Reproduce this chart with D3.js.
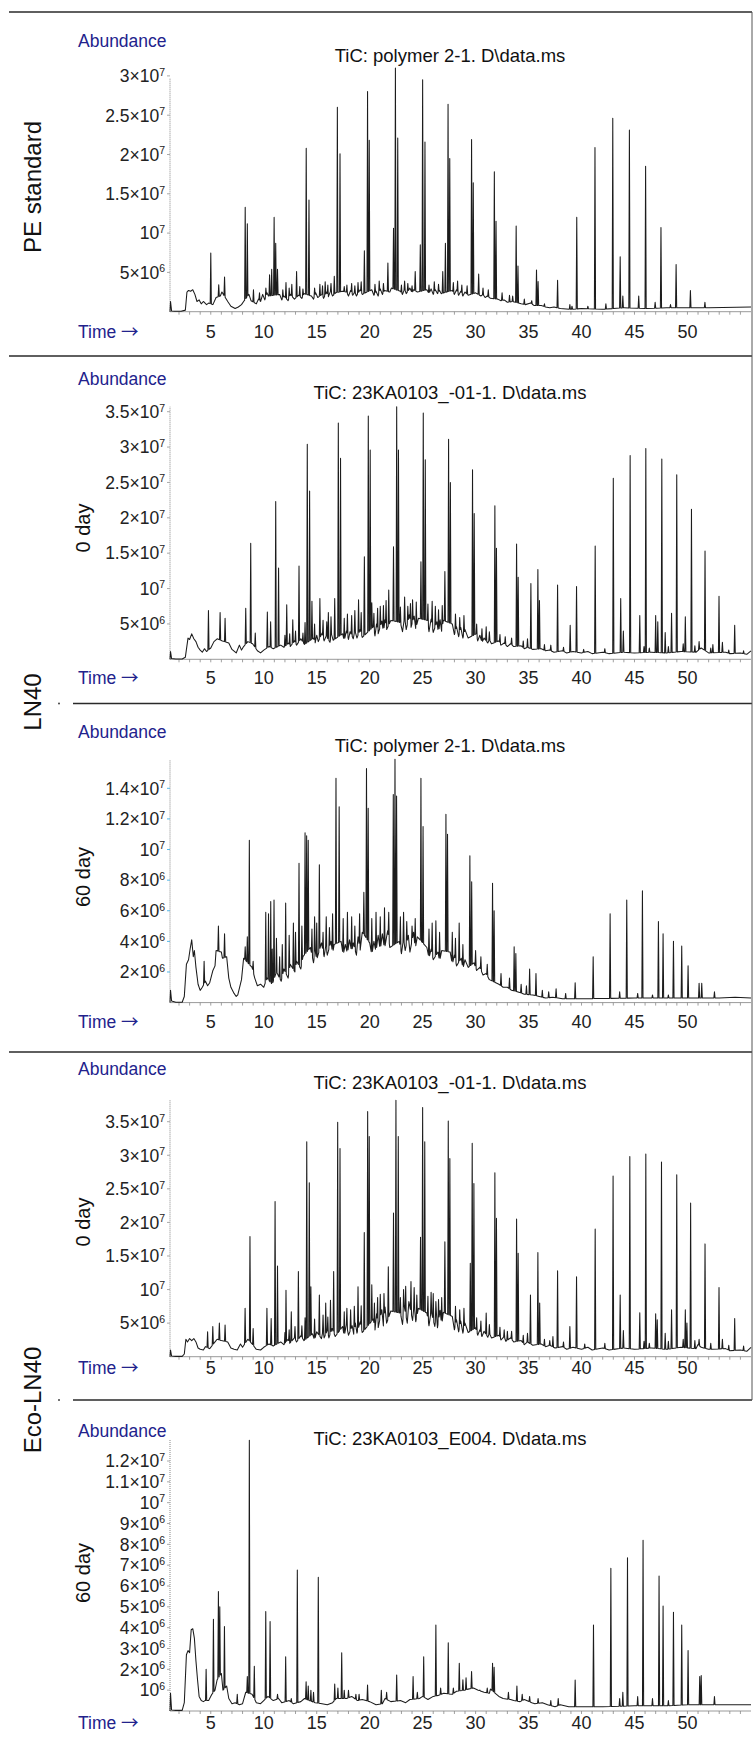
<!DOCTYPE html>
<html><head><meta charset="utf-8">
<script src="https://cdn.jsdelivr.net/npm/d3@7"></script>
<style>
body{margin:0;background:#fff}
svg{display:block}
text{font-family:"Liberation Sans",Arial,Helvetica,sans-serif}
</style>
</head><body>
<svg id="chart" width="756" height="1740"></svg>
<script>
// ---------------- DATA (abundance in millions, time in minutes) ----------------
const timeTicks = [5,10,15,20,25,30,35,40,45,50];
const titles = ["TiC: polymer 2-1. D\\data.ms","TiC: 23KA0103_-01-1. D\\data.ms","TiC: polymer 2-1. D\\data.ms","TiC: 23KA0103_-01-1. D\\data.ms","TiC: 23KA0103_E004. D\\data.ms"];
const dayLabels = ["","0 day","60 day","0 day","60 day"];
const groupLabels = ["PE standard","LN40","Eco-LN40"];

const p1YTicks = [5,10,15,20,25,30];
const p2YTicks = [5,10,15,20,25,30,35];
const p3YTicks = [2,4,6,8,10,12,14];
const p4YTicks = [5,10,15,20,25,30,35];
const p5YTicks = [1,2,3,4,5,6,7,8,9,10,11,12];

const p1Base = [[1.15,0],[1.2,1.3],[1.3,0.1],[1.6,0.05],[2.2,0.05],[2.6,0.2],[2.75,2.5],[2.9,2.7],[3.1,2.6],[3.3,2.8],[3.5,2.2],[3.7,1.3],[3.9,1.5],[4.1,1.0],[4.3,1.3],[4.6,0.9],[4.8,1.1],[5.2,0.9],[5.5,1.8],[5.9,2.0],[6.05,2.5],[6.6,1.3],[6.9,0.7],[7.3,0.4],[7.6,0.6],[7.9,0.9],[8.1,1.3],[8.6,2.2],[8.8,1.4],[9.3,1.0],[9.5,1.6],[9.7,1.3],[9.9,2.2],[10.1,1.5],[10.3,2.4],[10.45,2.0],[11.5,2.2],[11.7,1.5],[11.9,2.0],[12.3,1.4],[12.5,2.2],[12.9,1.6],[13.3,2.1],[13.6,1.7],[13.8,2.3],[14.5,2.0],[14.7,1.6],[14.9,2.4],[15.1,1.8],[15.5,2.2],[15.65,1.7],[15.95,2.5],[16.1,1.9],[16.3,2.6],[16.5,2.0],[16.8,2.4],[17.4,2.6],[17.8,2.5],[18.0,2.0],[18.2,2.7],[18.4,2.1],[18.6,2.5],[18.75,2.0],[19.1,2.8],[19.3,2.2],[20.2,2.8],[20.4,2.1],[20.6,2.6],[20.8,2.0],[21.0,2.9],[21.2,2.2],[21.4,2.7],[21.9,2.5],[22.05,3.0],[22.9,2.6],[23.1,2.2],[23.3,2.9],[23.45,2.3],[23.8,3.0],[24.0,2.4],[24.15,2.8],[24.5,2.5],[25.4,2.8],[25.6,2.3],[25.8,2.9],[26.0,2.2],[26.2,2.8],[26.4,2.3],[26.6,2.7],[26.75,2.3],[27.8,2.7],[28.0,2.2],[28.2,2.8],[28.4,2.1],[28.6,2.6],[28.8,2.0],[29.0,2.5],[29.3,2.1],[30.0,2.4],[30.5,2.0],[30.7,2.2],[30.9,1.8],[31.1,2.0],[31.4,1.7],[32.1,1.6],[32.4,1.4],[32.7,1.5],[33.0,1.2],[33.5,1.3],[34.3,1.0],[34.7,0.9],[35.2,1.1],[35.5,0.8],[36.2,0.8],[36.6,0.6],[37.0,0.5],[37.4,0.6],[38.0,0.4],[39.0,0.3],[40.0,0.4],[42.0,0.3],[44.0,0.5],[46.0,0.4],[48.0,0.5],[50.0,0.5],[52.0,0.5],[56.0,0.6]];
const p1Peaks = [[5.0,7.46],[5.75,3.43],[6.3,4.4],[8.25,13.3],[8.45,11.2],[9.03,2.8],[10.55,4.7],[10.75,5.4],[10.98,12.0],[11.13,8.7],[11.3,5.4],[12.1,3.7],[12.65,3.5],[13.1,5.1],[14.01,20.8],[14.27,14.2],[15.3,3.5],[15.8,3.8],[16.66,4.5],[16.95,26.0],[17.2,20.1],[17.6,3.2],[18.9,3.7],[19.5,7.75],[19.8,28.0],[19.96,21.8],[21.72,6.2],[22.25,10.6],[22.43,31.0],[22.65,22.1],[23.6,3.6],[24.3,5.1],[24.78,8.5],[25.0,29.5],[25.22,21.6],[26.9,5.1],[27.15,8.7],[27.4,26.4],[27.56,19.5],[29.62,21.9],[29.78,16.4],[30.29,4.8],[31.77,17.8],[31.93,11.5],[33.2,2.1],[33.83,10.9],[34.0,5.8],[35.75,5.3],[35.9,3.85],[37.74,4.0],[38.9,0.9],[39.55,12.0],[41.27,20.9],[42.3,1.0],[42.95,24.6],[43.65,7.0],[43.9,2.0],[44.52,23.1],[45.4,2.0],[46.05,18.5],[46.95,1.2],[47.5,10.7],[48.4,0.9],[48.93,6.0],[50.28,2.7],[51.65,1.2]];
const p1Minor = [[9.6,2.4],[10.2,3.0],[11.8,2.8],[12.4,3.0],[13.4,3.2],[13.7,2.9],[14.8,3.0],[15.55,3.3],[16.05,3.4],[16.35,3.6],[17.85,3.4],[18.3,3.6],[18.6,3.3],[19.2,3.8],[20.5,3.5],[20.9,3.9],[21.3,3.6],[23.0,3.4],[23.3,3.9],[24.0,3.3],[25.6,3.4],[26.1,3.8],[26.5,3.5],[27.9,3.7],[28.3,3.9],[28.7,3.4],[29.2,3.3],[30.7,3.0],[31.2,2.8],[32.5,2.4],[33.5,2.0],[34.6,1.6],[35.3,1.4],[36.5,1.0],[39.1,0.7],[40.6,0.7]];

const p2Base = [[1.15,0],[1.2,1.1],[1.3,0.1],[1.7,0.05],[2.3,0.05],[2.6,0.3],[2.85,3.0],[3.0,2.8],[3.2,3.6],[3.4,2.9],[3.6,2.5],[3.8,1.7],[4.0,1.3],[4.2,1.0],[4.4,1.5],[4.6,1.1],[5.0,1.6],[5.3,2.5],[5.6,2.9],[6.1,2.6],[6.7,2.3],[7.0,1.4],[7.4,0.9],[7.7,2.0],[7.9,1.3],[8.1,1.8],[8.5,2.5],[8.95,2.2],[9.4,1.2],[9.7,0.9],[10.0,1.3],[10.5,1.8],[10.9,1.5],[11.6,2.0],[11.9,1.7],[12.35,2.3],[12.5,1.8],[12.9,2.6],[13.1,2.0],[13.5,2.9],[13.85,2.1],[14.7,3.0],[14.85,2.3],[15.0,3.4],[15.15,2.5],[15.5,3.7],[15.7,2.6],[15.9,3.3],[16.25,2.4],[16.4,3.5],[16.55,2.7],[17.45,3.6],[17.6,2.6],[17.8,4.0],[18.0,2.8],[18.15,3.9],[18.45,2.9],[18.6,4.1],[18.8,3.0],[19.1,4.2],[19.3,3.1],[20.35,4.6],[20.5,3.3],[20.65,5.0],[20.8,3.6],[21.15,5.4],[21.3,3.8],[21.45,5.6],[21.6,4.2],[22.0,5.5],[22.9,5.2],[23.1,3.9],[23.3,6.0],[23.45,4.2],[23.75,6.3],[23.9,4.5],[24.2,6.1],[24.35,4.3],[24.6,5.8],[25.45,5.5],[25.6,3.9],[25.8,5.7],[26.0,3.8],[26.35,5.3],[26.5,3.6],[26.65,5.6],[26.8,3.9],[26.95,5.5],[27.8,5.0],[28.0,3.5],[28.2,4.6],[28.4,3.2],[28.6,4.5],[28.8,3.0],[29.0,4.2],[29.3,3.0],[30.05,3.6],[30.2,2.6],[30.4,3.4],[30.6,2.4],[30.8,3.0],[31.15,2.3],[31.3,2.8],[31.5,2.2],[32.2,2.6],[32.4,2.0],[32.7,2.3],[33.0,1.8],[33.3,2.2],[33.6,1.8],[34.3,1.9],[34.6,1.5],[34.9,1.7],[35.4,1.4],[36.2,1.5],[36.6,1.2],[37.0,1.3],[37.4,1.0],[38.2,1.2],[38.6,0.9],[39.2,1.1],[40.0,0.9],[40.6,1.1],[41.0,0.8],[42.0,1.0],[42.6,0.8],[44.0,1.0],[45.0,0.9],[46.6,1.0],[48.0,0.9],[49.4,1.1],[50.8,1.0],[51.3,1.6],[52.0,0.9],[53.6,1.0],[54.0,0.8],[55.0,0.9],[55.6,0.7],[56.0,1.2]];
const p2Peaks = [[4.78,6.9],[5.88,6.6],[6.35,5.8],[8.3,7.2],[8.77,16.4],[9.2,3.7],[10.34,6.7],[10.65,5.3],[11.13,22.3],[11.4,12.9],[12.17,7.7],[12.74,5.6],[13.33,13.2],[13.7,3.7],[14.11,30.4],[14.33,23.8],[14.55,8.2],[15.3,8.6],[16.1,6.6],[16.7,8.6],[17.04,33.4],[17.25,28.4],[18.3,6.2],[18.95,8.4],[19.5,14.5],[19.87,34.4],[20.05,29.6],[20.2,8.0],[21.0,7.5],[21.8,9.8],[22.25,15.9],[22.55,35.7],[22.72,29.6],[23.6,7.5],[24.05,8.4],[24.84,13.8],[25.06,34.8],[25.25,28.2],[26.2,7.5],[27.1,12.4],[27.45,31.1],[27.62,25.0],[29.71,26.8],[29.87,20.6],[31.0,4.6],[31.82,21.7],[31.97,15.7],[33.87,16.3],[34.02,11.6],[35.22,10.7],[35.88,12.7],[36.03,8.3],[37.74,10.5],[38.93,4.8],[39.53,10.3],[41.29,16.0],[43.0,25.6],[43.7,8.6],[43.95,4.0],[44.59,28.8],[45.5,6.2],[46.07,29.8],[47.0,6.2],[47.2,5.3],[47.58,28.3],[47.9,3.8],[48.5,6.5],[48.99,26.1],[49.8,6.0],[50.38,21.2],[51.1,2.5],[51.66,15.3],[52.4,2.1],[52.98,8.9],[53.3,2.4],[54.46,4.8]];
const p2Minor = [[12.0,3.4],[12.45,3.6],[13.0,4.0],[13.9,5.2],[14.8,5.0],[15.6,5.5],[15.95,5.3],[16.35,6.0],[17.6,5.8],[17.9,6.4],[18.6,6.9],[19.2,6.6],[20.4,6.5],[20.75,7.2],[21.3,7.6],[21.55,8.3],[22.9,7.4],[23.3,8.8],[23.85,7.9],[24.4,8.1],[25.5,7.8],[25.9,8.2],[26.5,7.0],[26.85,7.6],[28.1,6.4],[28.5,5.9],[28.9,6.2],[30.1,5.0],[30.6,4.3],[31.3,3.9],[32.3,3.5],[32.8,3.2],[33.4,3.0],[34.5,2.6],[34.9,2.9],[36.5,2.1],[37.1,2.0],[38.3,1.7],[40.2,1.4],[42.2,1.5],[45.9,1.8],[46.4,1.6],[48.2,1.8],[49.6,2.2],[50.7,1.9],[52.2,1.6],[53.9,1.3],[55.3,1.2]];

const p3Base = [[1.15,0],[1.2,0.8],[1.3,0.1],[1.7,0.02],[2.3,0.02],[2.5,0.4],[2.7,2.5],[2.9,2.8],[3.05,3.5],[3.2,4.1],[3.35,3.0],[3.45,3.4],[3.6,2.3],[3.8,1.2],[4.0,0.8],[4.2,1.0],[4.5,1.4],[4.7,1.1],[4.9,1.3],[5.2,2.1],[5.4,2.4],[5.5,3.4],[6.0,3.3],[6.1,2.9],[6.5,3.0],[6.7,1.6],[6.9,1.0],[7.2,0.6],[7.4,0.4],[7.55,0.5],[7.9,1.5],[8.1,2.9],[8.9,2.3],[9.15,1.6],[9.4,1.1],[9.7,1.2],[10.0,1.0],[10.3,1.6],[10.8,1.2],[11.2,2.0],[11.65,1.4],[11.9,2.2],[12.3,1.6],[12.5,2.5],[12.95,2.0],[13.1,2.7],[13.5,2.2],[13.7,3.0],[14.4,3.6],[14.7,2.6],[14.85,3.4],[15.0,2.8],[15.45,3.9],[15.7,3.0],[15.85,3.7],[16.0,3.1],[16.35,4.0],[16.5,3.2],[16.65,3.8],[17.3,4.0],[17.5,3.1],[17.7,3.8],[17.9,3.2],[18.1,4.1],[18.3,3.3],[18.45,3.9],[18.75,3.1],[18.9,4.3],[19.1,3.4],[19.3,4.6],[20.0,3.9],[20.2,3.1],[20.4,4.0],[20.6,3.3],[20.8,4.4],[21.0,3.4],[21.2,4.5],[21.4,3.5],[21.7,4.7],[21.9,3.6],[22.8,4.0],[23.0,3.2],[23.2,4.2],[23.35,3.4],[23.65,4.4],[23.8,3.3],[24.15,4.6],[24.3,3.5],[24.5,4.3],[25.4,3.6],[25.6,2.9],[25.8,3.5],[26.0,2.8],[26.45,3.3],[26.6,2.7],[26.8,3.4],[27.6,3.3],[27.8,2.5],[28.0,3.1],[28.2,2.4],[28.65,2.9],[28.8,2.2],[29.0,2.8],[29.3,2.3],[29.85,2.6],[30.1,2.1],[30.4,2.3],[30.7,1.8],[31.0,1.9],[31.3,1.5],[32.2,1.2],[32.6,1.0],[33.0,1.0],[33.4,0.8],[34.0,0.7],[34.6,0.55],[35.4,0.5],[36.0,0.4],[36.6,0.3],[37.3,0.35],[38.2,0.25],[40.0,0.25],[45.0,0.3],[50.0,0.3],[53.0,0.3],[54.5,0.35],[56.0,0.3]];
const p3Peaks = [[4.37,2.7],[5.72,5.0],[6.3,4.5],[8.25,3.65],[8.45,4.3],[8.64,10.6],[9.0,2.7],[10.19,5.9],[10.45,5.8],[10.66,6.6],[10.97,6.7],[11.5,3.0],[12.07,6.5],[12.8,5.2],[13.33,9.1],[13.9,11.1],[14.05,10.9],[14.2,10.6],[14.55,4.8],[15.25,9.0],[15.6,4.6],[16.2,4.9],[16.82,14.66],[17.12,12.8],[18.6,5.0],[19.45,7.2],[19.7,15.3],[19.86,12.7],[22.23,13.6],[22.39,15.9],[22.54,13.5],[23.5,5.3],[24.0,5.0],[24.84,14.66],[25.04,11.5],[26.25,5.35],[27.2,12.3],[27.35,11.0],[28.45,5.2],[29.46,9.6],[29.63,7.9],[31.6,7.8],[31.75,6.0],[33.64,3.65],[33.8,3.2],[35.1,2.2],[35.7,1.9],[36.9,0.7],[37.6,0.9],[38.5,0.6],[39.4,1.3],[41.1,3.0],[42.7,5.8],[43.6,0.7],[44.27,6.7],[45.3,0.6],[45.75,7.3],[46.7,0.5],[47.26,5.3],[47.7,4.5],[48.2,0.5],[48.68,4.0],[49.46,3.7],[50.06,2.4],[51.1,1.26],[51.35,1.26],[52.55,0.7]];
const p3Minor = [[10.8,3.5],[11.2,4.2],[11.75,3.8],[12.4,4.4],[13.0,4.6],[13.6,5.0],[14.8,5.6],[15.0,5.2],[15.9,5.6],[16.5,5.8],[17.5,5.5],[17.9,5.9],[18.3,5.6],[19.05,5.8],[20.2,5.5],[20.6,5.9],[21.0,5.6],[21.4,6.2],[21.8,5.9],[22.9,5.6],[23.2,5.9],[24.3,5.5],[25.6,4.8],[25.9,5.2],[26.6,4.6],[27.8,4.6],[28.1,4.2],[28.8,3.8],[30.0,3.4],[30.5,3.0],[31.1,2.5],[32.4,1.9],[33.2,1.6],[34.3,1.2],[34.8,1.1],[36.3,0.8]];

const p4Base = [[1.15,0],[1.2,1.0],[1.3,0.1],[1.7,0.05],[2.3,0.05],[2.5,0.4],[2.65,2.6],[2.8,2.2],[3.0,2.7],[3.2,2.4],[3.4,2.7],[3.6,2.2],[3.8,1.3],[4.0,1.1],[4.3,1.0],[4.5,1.5],[4.9,1.2],[5.4,2.2],[5.6,2.6],[6.0,2.4],[6.6,2.2],[6.9,1.3],[7.2,1.1],[7.5,1.0],[7.8,1.9],[8.0,1.4],[8.5,2.6],[8.85,2.0],[9.3,1.1],[9.7,1.0],[10.0,1.4],[10.5,1.9],[10.9,1.6],[11.6,2.2],[11.9,1.8],[12.3,2.6],[12.45,2.0],[12.9,2.8],[13.1,2.2],[13.5,3.1],[13.8,2.4],[14.6,3.4],[14.8,2.5],[15.0,3.7],[15.45,2.7],[15.6,4.0],[15.7,2.8],[16.0,3.9],[16.15,2.8],[16.45,4.2],[16.75,3.0],[17.45,4.5],[17.6,3.0],[17.8,4.8],[18.0,3.2],[18.35,4.6],[18.5,3.3],[18.65,5.0],[18.8,3.5],[19.1,5.2],[19.3,3.6],[20.35,5.6],[20.5,3.9],[20.65,6.4],[20.8,4.3],[21.15,7.0],[21.3,4.5],[21.45,7.4],[21.6,5.0],[22.0,6.8],[22.9,6.5],[23.1,4.8],[23.25,7.6],[23.55,5.0],[23.7,8.2],[24.05,5.4],[24.2,7.9],[24.35,5.2],[24.6,7.2],[25.4,6.5],[25.6,4.6],[25.8,6.8],[26.15,4.5],[26.3,6.5],[26.4,4.3],[26.65,6.9],[26.8,4.6],[26.95,6.6],[27.8,6.0],[28.0,4.0],[28.2,5.5],[28.4,3.7],[28.6,5.3],[28.8,3.5],[29.0,5.0],[29.3,3.6],[30.0,4.3],[30.2,3.2],[30.4,4.0],[30.6,3.0],[30.8,3.8],[31.15,2.9],[31.3,3.5],[31.5,2.8],[32.2,3.2],[32.4,2.5],[32.7,3.0],[32.85,2.3],[33.3,2.8],[33.6,2.2],[34.3,2.4],[34.6,1.8],[34.9,2.2],[35.4,1.7],[36.2,1.9],[36.6,1.5],[37.0,1.7],[37.5,1.3],[38.2,1.5],[38.6,1.1],[39.2,1.4],[40.0,1.1],[40.6,1.4],[41.0,1.0],[42.0,1.3],[42.6,1.0],[44.0,1.3],[45.0,1.1],[46.6,1.3],[48.0,1.1],[49.4,1.4],[50.8,1.2],[51.0,1.8],[51.3,1.4],[52.0,1.1],[53.6,1.2],[54.0,0.9],[55.0,1.0],[55.6,0.8],[56.0,1.4]];
const p4Peaks = [[4.7,3.7],[5.19,4.5],[5.81,5.0],[6.35,4.7],[8.24,7.2],[8.7,17.9],[9.0,4.2],[10.3,7.2],[10.7,5.7],[11.07,23.1],[11.3,13.5],[12.1,9.9],[12.6,6.7],[13.27,12.7],[13.6,4.6],[14.06,32.0],[14.3,25.9],[14.45,10.4],[15.25,9.2],[15.85,8.0],[16.3,8.4],[16.6,12.7],[16.98,34.9],[17.2,31.0],[18.2,7.0],[18.9,10.4],[19.49,18.5],[19.81,36.5],[19.96,32.8],[20.2,10.7],[21.0,9.3],[21.76,13.4],[22.25,21.4],[22.48,38.2],[22.7,32.8],[23.4,10.5],[23.9,11.2],[24.8,17.8],[25.0,37.1],[25.2,32.0],[26.0,9.4],[26.5,8.5],[27.1,17.1],[27.42,35.1],[27.57,29.5],[29.5,13.9],[29.68,31.8],[29.84,25.8],[31.0,6.5],[31.82,27.4],[31.97,20.6],[33.0,3.8],[33.87,20.5],[34.02,15.4],[35.18,9.2],[35.88,15.5],[36.05,8.0],[37.3,3.0],[37.74,12.8],[38.9,4.5],[39.53,11.9],[41.29,19.0],[42.98,26.9],[43.65,9.2],[43.95,3.9],[44.56,29.8],[45.5,6.55],[46.07,30.2],[47.0,6.4],[47.15,5.5],[47.55,29.0],[47.9,3.5],[48.5,7.0],[48.99,27.1],[49.8,7.0],[49.95,5.0],[50.3,22.9],[51.1,2.6],[51.66,16.8],[52.98,10.3],[53.3,2.6],[54.46,5.7]];
const p4Minor = [[12.0,3.6],[12.4,4.0],[12.95,4.5],[13.9,5.8],[14.8,5.6],[15.6,6.2],[16.05,5.9],[17.6,6.7],[17.85,7.2],[18.55,7.5],[19.2,7.6],[20.45,8.0],[20.75,8.8],[21.35,9.4],[22.9,8.8],[23.2,10.0],[24.2,10.3],[24.45,9.2],[25.5,9.0],[25.8,9.6],[26.25,8.2],[26.8,8.8],[28.1,7.5],[28.5,7.0],[28.9,7.2],[30.1,5.8],[30.5,5.3],[31.3,4.8],[32.3,4.4],[32.7,4.0],[33.4,3.8],[34.5,3.2],[34.9,3.5],[36.5,2.6],[37.0,2.4],[38.3,2.2],[40.3,1.9],[42.2,2.0],[45.9,2.3],[46.4,2.0],[48.2,2.3],[49.6,2.6],[50.7,2.4],[52.2,2.0],[53.9,1.7],[55.3,1.6]];

const p5Base = [[1.15,0],[1.2,0.85],[1.3,0.05],[1.7,0.03],[2.3,0.03],[2.5,0.4],[2.7,2.7],[2.85,2.9],[3.0,2.8],[3.15,3.9],[3.3,3.95],[3.45,3.5],[3.6,2.4],[3.75,1.5],[3.9,0.7],[4.1,0.5],[4.3,0.45],[4.45,0.5],[4.8,0.5],[5.1,0.8],[5.4,1.0],[5.6,1.5],[6.0,1.8],[6.15,1.0],[6.5,1.2],[6.7,0.6],[7.0,0.35],[7.3,0.4],[7.7,0.3],[8.0,0.35],[8.3,0.9],[8.9,0.8],[9.3,0.4],[9.7,0.35],[10.0,0.5],[10.4,0.7],[10.9,0.5],[11.4,0.6],[11.7,0.4],[12.4,0.5],[12.8,0.35],[13.5,0.45],[13.85,0.6],[14.3,0.5],[14.85,0.4],[15.5,0.35],[16.0,0.3],[16.5,0.4],[16.85,0.6],[17.8,0.6],[18.3,0.7],[18.85,0.5],[19.3,0.55],[20.0,0.45],[20.6,0.3],[21.2,0.35],[21.45,0.6],[22.0,0.45],[22.9,0.5],[23.4,0.4],[23.8,0.55],[24.7,0.6],[25.0,0.7],[25.5,0.55],[26.0,0.7],[26.5,0.75],[27.0,0.85],[27.8,0.8],[28.2,0.95],[28.95,1.0],[29.3,1.05],[29.8,1.1],[30.25,1.0],[30.8,0.9],[31.3,0.85],[31.4,1.05],[32.2,0.7],[32.6,0.6],[33.3,0.55],[33.6,0.5],[34.2,0.45],[34.6,0.55],[35.3,0.4],[35.6,0.35],[36.3,0.4],[36.8,0.3],[37.5,0.2],[38.0,0.3],[38.8,0.2],[40.0,0.2],[42.0,0.2],[45.0,0.25],[48.0,0.25],[50.0,0.3],[52.0,0.3],[54.0,0.3],[56.0,0.3]];
const p5Peaks = [[4.56,2.0],[5.25,4.4],[5.72,5.73],[5.85,5.0],[6.29,4.05],[7.5,0.8],[8.45,1.65],[8.64,13.0],[9.11,2.15],[10.19,4.77],[10.6,4.29],[11.3,0.8],[12.07,2.6],[12.6,0.6],[13.17,6.77],[14.0,1.4],[14.2,1.2],[14.45,1.0],[14.7,0.9],[15.15,6.42],[16.7,1.3],[17.0,1.1],[17.36,2.8],[17.6,1.0],[18.0,1.0],[18.7,0.8],[19.0,0.8],[19.8,1.25],[21.1,1.0],[21.6,0.9],[22.55,1.73],[24.1,1.65],[24.5,0.9],[25.1,2.6],[26.25,4.13],[26.7,1.1],[27.42,3.28],[27.9,1.1],[28.46,2.29],[28.8,1.5],[29.1,1.6],[29.62,1.89],[30.4,1.0],[31.1,1.1],[31.6,2.29],[31.75,2.1],[33.1,0.9],[33.9,1.2],[34.4,0.8],[35.1,0.7],[35.9,0.6],[37.1,0.5],[37.8,0.6],[39.4,1.49],[41.13,4.13],[42.77,6.85],[43.6,0.6],[43.9,0.9],[44.34,7.36],[45.3,0.7],[45.81,8.2],[46.7,0.6],[47.32,6.48],[47.7,5.04],[48.2,0.5],[48.68,4.74],[49.46,4.13],[50.06,2.9],[51.16,1.65],[51.3,1.7],[52.55,0.7]];
const p5Minor = [];

// ---------------- LAYOUT ----------------
const layout = [
  {y0:311.7, refV:30, refY:75.9,  axisTop:78,    abundY:47,    titleY:62,    xLabY:338,   dayY:null},
  {y0:659.3, refV:35, refY:411.7, axisTop:406.7, abundY:385,   titleY:399.3, xLabY:684,   dayY:528},
  {y0:1002.6,refV:14, refY:788.3, axisTop:760,   abundY:737.5, titleY:751.7, xLabY:1027.7,dayY:877},
  {y0:1356.7,refV:35, refY:1121.7,axisTop:1100,  abundY:1075,  titleY:1089.3,xLabY:1374,  dayY:1222},
  {y0:1711,  refV:12, refY:1461,  axisTop:1440,  abundY:1436.7,titleY:1445,  xLabY:1729.3,dayY:1573}
];
const panels = [
  {base:p1Base, peaks:p1Peaks.concat(p1Minor), yTicks:p1YTicks},
  {base:p2Base, peaks:p2Peaks.concat(p2Minor), yTicks:p2YTicks},
  {base:p3Base, peaks:p3Peaks.concat(p3Minor), yTicks:p3YTicks},
  {base:p4Base, peaks:p4Peaks.concat(p4Minor), yTicks:p4YTicks},
  {base:p5Base, peaks:p5Peaks.concat(p5Minor), yTicks:p5YTicks}
];

const svg = d3.select("#chart");
const navy = "#22228c";
const x = d3.scaleLinear().domain([1.15, 56]).range([170, 751]);

// separators
const seps = [{y:12,x0:9},{y:356,x0:9},{y:703.5,x0:73,dot:true},{y:1052,x0:9},{y:1400,x0:73,dot:true}];
seps.forEach(s => {
  svg.append("line").attr("x1", s.x0).attr("x2", 752).attr("y1", s.y).attr("y2", s.y)
    .attr("stroke", "#2a2a2a").attr("stroke-width", 1.6);
  if (s.dot) svg.append("circle").attr("cx", 59).attr("cy", s.y).attr("r", 1).attr("fill", "#444");
});
svg.append("line").attr("x1", 752).attr("x2", 752).attr("y1", 12).attr("y2", 1400)
  .attr("stroke", "#555").attr("stroke-width", 1);

// group labels
const groupPos = [187, 702, 1400];
groupLabels.forEach((g, i) => {
  svg.append("text").attr("transform", `translate(41,${groupPos[i]}) rotate(-90)`)
    .attr("text-anchor", "middle").attr("font-size", 24).attr("fill", "#111").text(g);
});

function interpBase(base, t) {
  for (let i = 1; i < base.length; i++) {
    if (t <= base[i][0]) {
      const [t0, v0] = base[i - 1], [t1, v1] = base[i];
      return v0 + (v1 - v0) * (t - t0) / (t1 - t0);
    }
  }
  return base[base.length - 1][1];
}
function buildTrace(base, peaks) {
  const hw = 0.055;
  const pts = base.filter(b => !peaks.some(p => Math.abs(p[0] - b[0]) < hw * 1.6));
  peaks.forEach(([t, v]) => {
    pts.push([t - hw, interpBase(base, t - hw)], [t, v], [t + hw, interpBase(base, t + hw)]);
  });
  pts.sort((a, b) => a[0] - b[0]);
  return pts;
}
function sciParts(vm) {
  const v = Math.round(vm * 1e6);
  const e = Math.floor(Math.log10(v) + 1e-9);
  const m = +(v / Math.pow(10, e)).toFixed(2);
  return {pre: (m === 1 ? "" : m + "\u00d7") + "10", e: String(e)};
}

panels.forEach((p, i) => {
  const L = layout[i];
  const y = d3.scaleLinear().domain([0, L.refV]).range([L.y0, L.refY]);
  const g = svg.append("g");

  // labels
  g.append("text").attr("x", 78).attr("y", L.abundY).attr("font-size", 17.5).attr("fill", navy).text("Abundance");
  g.append("text").attr("x", 450).attr("y", L.titleY).attr("text-anchor", "middle").attr("font-size", 18.5).attr("fill", "#111").text(titles[i]);
  const tl = g.append("text").attr("x", 78).attr("y", L.xLabY).attr("font-size", 17.5).attr("fill", navy);
  tl.append("tspan").text("Time ");
  tl.append("tspan").attr("font-family", "'Noto Sans CJK SC','DejaVu Sans',sans-serif").text("\u2192");
  if (L.dayY) {
    g.append("text").attr("transform", `translate(90,${L.dayY}) rotate(-90)`).attr("text-anchor", "middle")
      .attr("font-size", 20).attr("fill", "#111").text(dayLabels[i]);
  }

  // y axis (dotted)
  g.append("line").attr("x1", 170).attr("x2", 170).attr("y1", L.y0).attr("y2", L.axisTop)
    .attr("stroke", "#888").attr("stroke-width", 1).attr("stroke-dasharray", "1,1");
  p.yTicks.forEach(v => {
    const yy = y(v);
    g.append("line").attr("x1", 167).attr("x2", 170).attr("y1", yy).attr("y2", yy)
      .attr("stroke", i === 2 ? "#55b8e8" : "#aaa").attr("stroke-width", 1);
    const parts = sciParts(v);
    const t = g.append("text").attr("x", 165).attr("y", yy + 6.3).attr("text-anchor", "end")
      .attr("font-size", 17.5).attr("fill", "#222");
    t.append("tspan").text(parts.pre);
    t.append("tspan").attr("dy", -6.5).attr("font-size", 10.5).text(parts.e);
  });

  // x axis
  g.append("line").attr("x1", 170).attr("x2", 751).attr("y1", L.y0).attr("y2", L.y0)
    .attr("stroke", "#9a9a9a").attr("stroke-width", 1);
  d3.range(2, 56).forEach(tk => {
    g.append("line").attr("x1", x(tk)).attr("x2", x(tk)).attr("y1", L.y0).attr("y2", L.y0 + 3)
      .attr("stroke", "#888").attr("stroke-width", 0.8);
  });
  timeTicks.forEach(tk => {
    g.append("text").attr("x", x(tk)).attr("y", L.xLabY).attr("text-anchor", "middle")
      .attr("font-size", 18).attr("fill", "#222").text(tk);
  });

  // trace
  const pts = buildTrace(p.base, p.peaks);
  const line = d3.line().x(d => x(d[0])).y(d => y(d[1]));
  g.append("path").attr("d", line(pts)).attr("fill", "none")
    .attr("stroke", "#1c1c1c").attr("stroke-width", 1.05).attr("stroke-linejoin", "round");
});
</script>
</body></html>
